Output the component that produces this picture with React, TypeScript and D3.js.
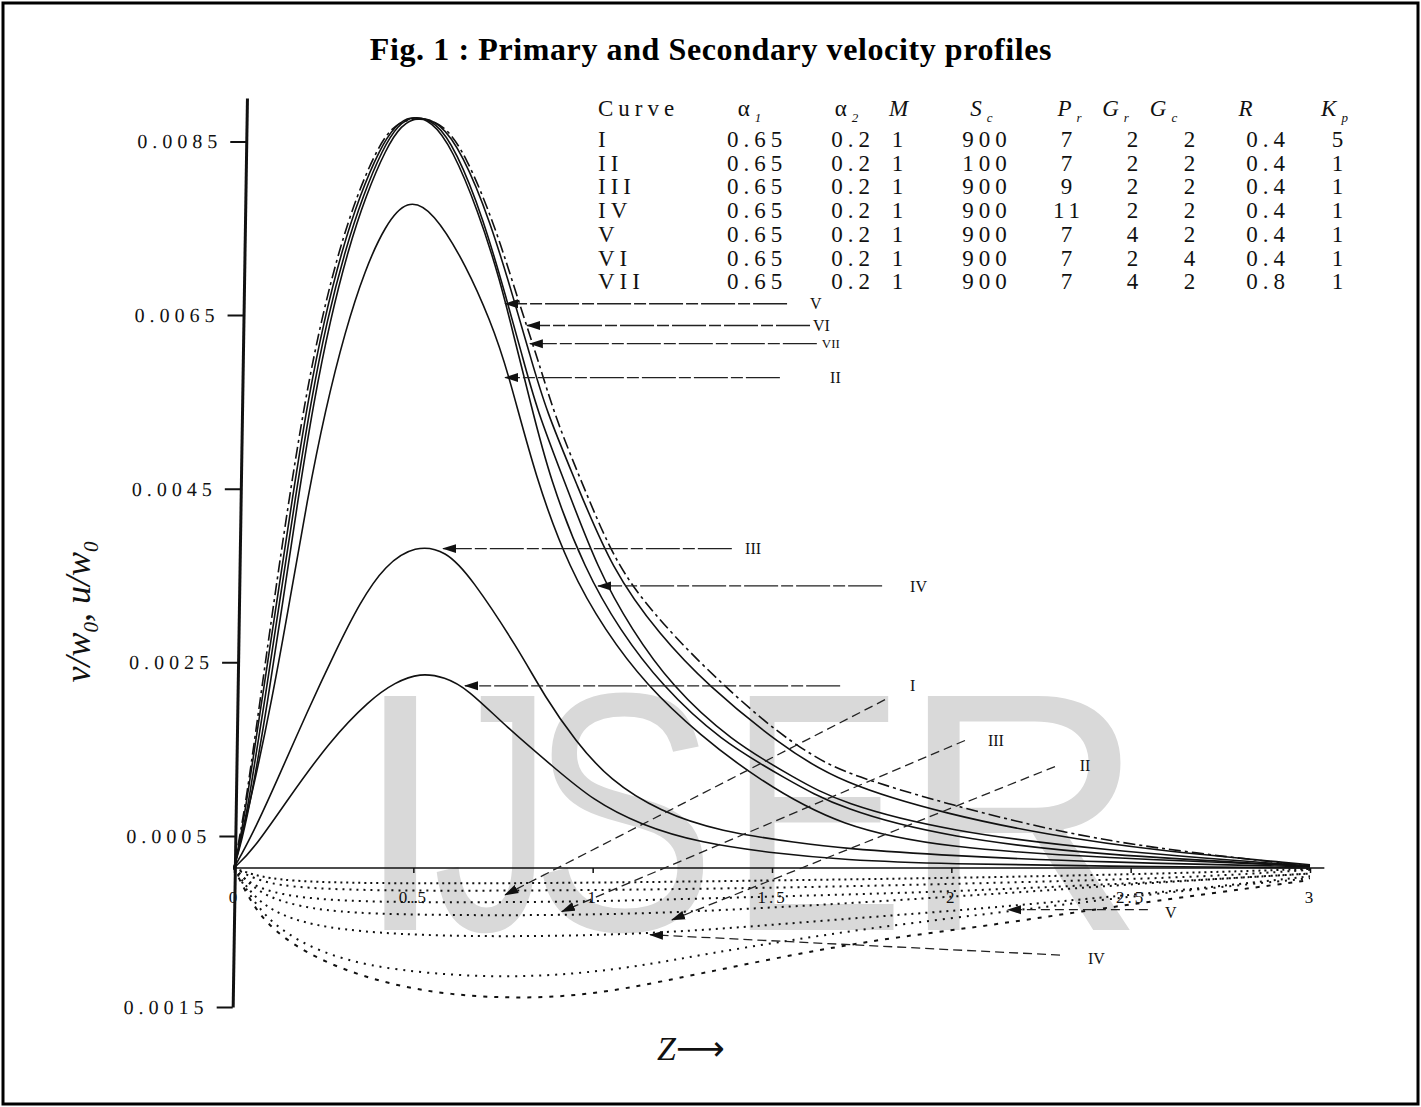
import React, { useRef, useEffect } from "react";
import * as d3 from "d3";

const width = 1421;
const height = 1107;

// axis ticks (the lowest tick sits below zero, printed without its sign)
const yTicks = [0.0085, 0.0065, 0.0045, 0.0025, 0.0005, -0.0015];
const xTicks = [0, 0.5, 1, 1.5, 2, 2.5, 3];

// primary velocity v/w0 (solid), [Z, value]
const primaryI = [
  [0, 0], [0.053, 0.00028], [0.148, 0.00091], [0.268, 0.0016], [0.379, 0.00207],
  [0.449, 0.00227], [0.519, 0.00238], [0.588, 0.00233], [0.65, 0.0022], [0.761, 0.00175],
  [0.892, 0.00129], [1.001, 0.00091], [1.132, 0.00063], [1.299, 0.00039], [1.522, 0.00022],
  [1.69, 0.00013], [1.996, 0.00006], [2.414, 0.00003], [3, 0],
];
const primaryII = [
  [0, 0], [0.025, 0.00057], [0.053, 0.00103], [0.106, 0.00207], [0.156, 0.00322],
  [0.204, 0.00437], [0.254, 0.0054], [0.31, 0.00632], [0.365, 0.00702], [0.421, 0.00753],
  [0.482, 0.00784], [0.555, 0.00771], [0.65, 0.00705], [0.714, 0.00644], [0.761, 0.0059],
  [0.842, 0.0046], [0.937, 0.00356], [1.034, 0.00287], [1.149, 0.00224], [1.299, 0.00166],
  [1.458, 0.00116], [1.69, 0.0006], [1.996, 0.00031], [2.414, 0.00016], [3, 0.00003],
];
const primaryIII = [
  [0, 0], [0.053, 0.00053], [0.12, 0.00114], [0.204, 0.00193], [0.282, 0.00262],
  [0.351, 0.00319], [0.421, 0.00362], [0.505, 0.00385], [0.591, 0.00379], [0.661, 0.00348],
  [0.792, 0.00266], [0.867, 0.0021], [0.951, 0.0016], [1.048, 0.00114], [1.188, 0.00078],
  [1.355, 0.00055], [1.578, 0.00039], [1.69, 0.00031], [1.996, 0.00019], [2.414, 0.00009],
  [3, 0.00002],
];
const primaryIV = [
  [0, 0], [0.02, 0.00044], [0.042, 0.00091], [0.086, 0.00207], [0.128, 0.00322],
  [0.17, 0.00437], [0.215, 0.00552], [0.259, 0.00644], [0.31, 0.00725], [0.36, 0.00788],
  [0.415, 0.00842], [0.457, 0.00869], [0.499, 0.0088], [0.563, 0.00873], [0.619, 0.0084],
  [0.694, 0.00763], [0.761, 0.00667], [0.803, 0.00604], [0.845, 0.0054], [0.92, 0.0046],
  [1.015, 0.00356], [1.11, 0.00287], [1.218, 0.00224], [1.383, 0.0016], [1.567, 0.00116],
  [1.69, 0.00088], [1.996, 0.00055], [2.414, 0.00028], [3, 0.00003],
];
const primaryV = [
  [0, 0], [0.017, 0.00044], [0.036, 0.00091], [0.078, 0.00207], [0.12, 0.00322],
  [0.162, 0.00437], [0.206, 0.00552], [0.251, 0.00644], [0.301, 0.00725], [0.351, 0.00788],
  [0.407, 0.00842], [0.449, 0.00868], [0.491, 0.0088], [0.552, 0.00874], [0.608, 0.00842],
  [0.68, 0.00771], [0.742, 0.0069], [0.783, 0.00621], [0.825, 0.00552], [0.881, 0.0046],
  [0.979, 0.00356], [1.076, 0.00287], [1.191, 0.00224], [1.355, 0.0016], [1.539, 0.00116],
  [1.69, 0.00081], [1.996, 0.00047], [2.414, 0.0002], [3, 0.00003],
];
const primaryVI = [
  [0, 0], [0.022, 0.00044], [0.047, 0.00091], [0.095, 0.00207], [0.137, 0.00322],
  [0.178, 0.00437], [0.223, 0.00552], [0.268, 0.00644], [0.318, 0.00725], [0.368, 0.00788],
  [0.424, 0.00842], [0.466, 0.00869], [0.513, 0.00879], [0.574, 0.00872], [0.636, 0.00837],
  [0.714, 0.00759], [0.781, 0.00667], [0.825, 0.00604], [0.87, 0.0054], [0.951, 0.0046],
  [1.054, 0.00356], [1.188, 0.00281], [1.319, 0.00224], [1.522, 0.00155], [1.69, 0.00111],
  [1.996, 0.00074], [2.275, 0.00051], [2.554, 0.00028], [3, 0.00005],
];
const primaryVII = [
  [0, 0], [0.014, 0.00044], [0.034, 0.00091], [0.073, 0.00207], [0.112, 0.00322],
  [0.153, 0.00437], [0.198, 0.00552], [0.243, 0.00644], [0.293, 0.00725], [0.343, 0.00788],
  [0.399, 0.00842], [0.449, 0.00872], [0.519, 0.00878], [0.586, 0.0087], [0.647, 0.00834],
  [0.728, 0.00753], [0.797, 0.00661], [0.848, 0.00598], [0.898, 0.00529], [0.979, 0.00448],
  [1.068, 0.0036], [1.179, 0.00302], [1.299, 0.00249], [1.486, 0.00178], [1.617, 0.00141],
  [1.718, 0.0012], [1.996, 0.00086], [2.275, 0.00057], [2.554, 0.00031], [3, 0.00003],
];

// secondary velocity u/w0 (dotted), [Z, value]
const secondaryVI = [
  [0, 0], [0.072, -0.0001], [0.184, -0.00015], [0.463, -0.00017], [1.02, -0.00016],
  [1.578, -0.00013], [2.136, -0.0001], [2.693, -0.00005], [3, -0.00001],
];
const secondaryVII = [
  [0, 0], [0.072, -0.00015], [0.184, -0.00022], [0.463, -0.00025], [1.02, -0.00024],
  [1.578, -0.00021], [2.136, -0.00016], [2.693, -0.0001], [3, -0.00002],
];
const secondaryI = [
  [0, 0], [0.045, -0.00018], [0.128, -0.00029], [0.268, -0.00035], [0.463, -0.00037],
  [0.742, -0.00037], [1.02, -0.00036], [1.299, -0.00033], [1.578, -0.0003], [1.857, -0.00027],
  [2.136, -0.00023], [2.414, -0.00018], [2.693, -0.00013], [3, -0.00006],
];
const secondaryIII = [
  [0, 0], [0.072, -0.00029], [0.184, -0.00042], [0.323, -0.00049], [0.602, -0.00051],
  [0.881, -0.00051], [1.16, -0.00049], [1.439, -0.00044], [1.717, -0.00038], [1.996, -0.00031],
  [2.275, -0.00024], [2.554, -0.00016], [3, -0.00006],
];
const secondaryIV = [
  [0, 0], [0.059, -0.00035], [0.156, -0.00056], [0.296, -0.00067], [0.519, -0.00073],
  [0.797, -0.00074], [1.076, -0.00072], [1.355, -0.00066], [1.634, -0.00057], [1.913, -0.00049],
  [2.164, -0.00041], [2.414, -0.00032], [2.693, -0.00022], [3, -0.00009],
];
const secondaryV = [
  [0, 0], [0.059, -0.0004], [0.128, -0.00067], [0.24, -0.00091], [0.379, -0.00106],
  [0.546, -0.00114], [0.742, -0.00118], [0.937, -0.00115], [1.132, -0.00106], [1.327, -0.00092],
  [1.55, -0.00078], [1.773, -0.00065], [2.024, -0.00053], [2.303, -0.0004], [2.582, -0.00027],
  [3, -0.00011],
];
const secondaryII = [
  [0, 0], [0.059, -0.00047], [0.142, -0.00078], [0.268, -0.00105], [0.435, -0.00126],
  [0.602, -0.00137], [0.797, -0.00141], [0.993, -0.00137], [1.188, -0.00123], [1.411, -0.00105],
  [1.634, -0.00088], [1.857, -0.00074], [2.108, -0.00062], [2.358, -0.00047], [2.637, -0.00032],
  [3, -0.00013],
];

// arrows to the primary curves: [label, tip Z, tail Z, label Z, value]
const primaryArrows = [
  ["V", 0.756, 1.542, 1.606, 0.00663],
  ["VI", 0.817, 1.606, 1.614, 0.00638],
  ["VII", 0.825, 1.625, 1.639, 0.00617],
  ["II", 0.756, 1.522, 1.662, 0.00578],
  ["III", 0.583, 1.388, 1.425, 0.00381],
  ["IV", 1.015, 1.807, 1.885, 0.00338],
  ["I", 0.644, 1.69, 1.885, 0.00223],
];
// arrows to the secondary curves: [label, tail Z, tail value, tip Z, tip value, label Z, label value]
const secondaryArrows = [
  ["", 1.815, 0.00207, 0.756, -0.00029, 0, 0],
  ["III", 2.038, 0.0016, 0.914, -0.00047, 2.102, 0.0016],
  ["II", 2.289, 0.0013, 1.221, -0.00056, 2.358, 0.00131],
  ["V", 2.548, -0.00045, 2.158, -0.00045, 2.596, -0.00048],
  ["IV", 2.303, -0.00094, 1.16, -0.00072, 2.381, -0.00098],
];

// parameter table
const tableCurves = ["I", "II", "III", "IV", "V", "VI", "VII"];
const alpha1 = ["0.65", "0.65", "0.65", "0.65", "0.65", "0.65", "0.65"];
const alpha2 = ["0.2", "0.2", "0.2", "0.2", "0.2", "0.2", "0.2"];
const mValues = ["1", "1", "1", "1", "1", "1", "1"];
const scValues = ["900", "100", "900", "900", "900", "900", "900"];
const prValues = ["7", "7", "9", "11", "7", "7", "7"];
const grValues = ["2", "2", "2", "2", "4", "2", "4"];
const gcValues = ["2", "2", "2", "2", "2", "4", "2"];
const rValues = ["0.4", "0.4", "0.4", "0.4", "0.4", "0.4", "0.8"];
const kpValues = ["5", "1", "1", "1", "1", "1", "1"];
const headMain = ["α", "α", "M", "S", "P", "G", "G", "R", "K"];
const headSub = ["1", "2", "", "c", "r", "r", "c", "", "p"];

const watermark = ["I", "J", "S", "E", "R"];

const App = () => {
  const ref = useRef<SVGSVGElement>(null);

  useEffect(() => {
    const svg = d3.select(ref.current);
    svg.selectAll("*").remove();

    const x = d3.scaleLinear().domain([0, 3]).range([234, 1310]);
    // the scanned axis is not evenly spaced around zero
    const y = d3
      .scaleLinear()
      .domain([0.009, 0.0005, 0, -0.0015])
      .range([98, 836, 868, 1007]);

    const serif = "'Liberation Serif', 'Times New Roman', serif";
    const ink = "#111";

    svg.append("rect").attr("width", width).attr("height", height).attr("fill", "#fff");

    // watermark, letters placed one by one
    const wmX = [353, 433, 530, 728, 900];
    const wmScale = [1, 0.7, 0.82, 0.78, 1];
    svg
      .append("g")
      .selectAll("text")
      .data(watermark)
      .join("text")
      .attr("transform", (d, i) => `translate(${wmX[i]},930) scale(${wmScale[i]},1)`)
      .attr("font-family", "'Liberation Sans', Arial, sans-serif")
      .attr("font-size", 340)
      .attr("fill", "#d9d9d9")
      .text((d) => d);

    svg
      .append("rect")
      .attr("x", 3)
      .attr("y", 3)
      .attr("width", width - 6)
      .attr("height", height - 6)
      .attr("fill", "none")
      .attr("stroke", "#000")
      .attr("stroke-width", 3);

    svg
      .append("text")
      .attr("x", 711)
      .attr("y", 60)
      .attr("text-anchor", "middle")
      .attr("font-family", serif)
      .attr("font-weight", "bold")
      .attr("font-size", 32)
      .style("letter-spacing", "0.6px")
      .text("Fig. 1 : Primary and Secondary velocity profiles");

    const defs = svg.append("defs");
    defs
      .append("marker")
      .attr("id", "ah")
      .attr("viewBox", "0 -5 14 10")
      .attr("refX", 13)
      .attr("refY", 0)
      .attr("markerWidth", 14)
      .attr("markerHeight", 10)
      .attr("markerUnits", "userSpaceOnUse")
      .attr("orient", "auto")
      .append("path")
      .attr("d", "M0,-4.5L14,0L0,4.5Z")
      .attr("fill", ink);

    // y axis (the scan is slightly skewed)
    const yAxis = svg
      .append("g")
      .attr("transform", "translate(248.5,0) skewX(-0.9)")
      .call(
        d3
          .axisLeft(y)
          .tickValues(yTicks)
          .tickSize(16)
          .tickSizeOuter(0)
          .tickPadding(8)
          .tickFormat((d) => Math.abs(+d).toFixed(4))
      );
    yAxis.select(".domain").attr("stroke", ink).attr("stroke-width", 3);
    yAxis.selectAll(".tick line").attr("stroke", ink).attr("stroke-width", 2);
    yAxis
      .selectAll(".tick text")
      .attr("font-family", serif)
      .attr("font-size", 20)
      .attr("fill", ink)
      .style("letter-spacing", "5px");

    // x axis along zero
    svg
      .append("line")
      .attr("x1", x(0))
      .attr("x2", x(3.04))
      .attr("y1", y(0))
      .attr("y2", y(0))
      .attr("stroke", ink)
      .attr("stroke-width", 1.6);
    const xAxis = svg
      .append("g")
      .attr("transform", `translate(0,${y(0)})`)
      .call(
        d3
          .axisBottom(x)
          .tickValues(xTicks)
          .tickSize(5)
          .tickSizeOuter(0)
          .tickPadding(18)
          .tickFormat((d) => String(d))
      );
    xAxis.select(".domain").remove();
    xAxis.selectAll(".tick line").attr("stroke", ink).attr("stroke-width", 1.5);
    xAxis
      .selectAll(".tick text")
      .attr("font-family", serif)
      .attr("font-size", 17)
      .attr("fill", ink)
      .style("letter-spacing", "3px");

    const line = d3
      .line<number[]>()
      .x((d) => x(d[0]))
      .y((d) => y(d[1]))
      .curve(d3.curveBasis);

    const primary = [
      { data: primaryI, dash: null },
      { data: primaryII, dash: null },
      { data: primaryIII, dash: null },
      { data: primaryIV, dash: null },
      { data: primaryV, dash: null },
      { data: primaryVI, dash: null },
      { data: primaryVII, dash: "12,4,3,4" },
    ];
    svg
      .append("g")
      .selectAll("path")
      .data(primary)
      .join("path")
      .attr("d", (d) => line(d.data))
      .attr("fill", "none")
      .attr("stroke", ink)
      .attr("stroke-width", 1.6)
      .attr("stroke-dasharray", (d) => d.dash);

    const secondary = [
      { data: secondaryVI, dash: "2,4" },
      { data: secondaryVII, dash: "2,5" },
      { data: secondaryI, dash: "2,5" },
      { data: secondaryIII, dash: "2,5" },
      { data: secondaryIV, dash: "2,5" },
      { data: secondaryV, dash: "2,6" },
      { data: secondaryII, dash: "4,7" },
    ];
    svg
      .append("g")
      .selectAll("path")
      .data(secondary)
      .join("path")
      .attr("d", (d) => line(d.data))
      .attr("fill", "none")
      .attr("stroke", ink)
      .attr("stroke-width", 2)
      .attr("stroke-dasharray", (d) => d.dash);

    // labelled arrows
    const arrows = svg.append("g");
    primaryArrows.forEach(([name, tip, tail, lab, v]) => {
      arrows
        .append("line")
        .attr("x1", x(tail as number))
        .attr("x2", x(tip as number))
        .attr("y1", y(v as number))
        .attr("y2", y(v as number))
        .attr("stroke", "#222")
        .attr("stroke-width", 1.3)
        .attr("stroke-dasharray", "34,3,12,3")
        .attr("marker-end", "url(#ah)");
      arrows
        .append("text")
        .attr("x", x(lab as number))
        .attr("y", y(v as number))
        .attr("dy", "0.35em")
        .attr("font-family", serif)
        .attr("font-size", name === "VII" ? 13 : 16)
        .attr("fill", ink)
        .text(name as string);
    });
    secondaryArrows.forEach(([name, tz, tv, pz, pv, lz, lv]) => {
      arrows
        .append("line")
        .attr("x1", x(tz as number))
        .attr("x2", x(pz as number))
        .attr("y1", y(tv as number))
        .attr("y2", y(pv as number))
        .attr("stroke", "#222")
        .attr("stroke-width", 1.3)
        .attr("stroke-dasharray", "9,5")
        .attr("marker-end", "url(#ah)");
      if (name) {
        arrows
          .append("text")
          .attr("x", x(lz as number))
          .attr("y", y(lv as number))
          .attr("dy", "0.35em")
          .attr("font-family", serif)
          .attr("font-size", 16)
          .attr("fill", ink)
          .text(name as string);
      }
    });

    // parameter table
    const table = svg
      .append("g")
      .attr("font-family", serif)
      .attr("font-size", 23)
      .attr("fill", ink)
      .style("letter-spacing", "5px");
    const headX = [752, 849, 901, 984, 1072, 1118, 1166, 1248, 1337];
    const colX = [757, 853, 900, 987, 1069, 1135, 1192, 1268, 1340];
    table.append("text").attr("x", 598).attr("y", 116).text("Curve");
    headMain.forEach((m, i) => {
      const t = table
        .append("text")
        .attr("x", headX[i])
        .attr("y", 116)
        .attr("text-anchor", "middle");
      t.append("tspan")
        .attr("font-style", m === "α" ? "normal" : "italic")
        .text(m);
      if (headSub[i]) {
        t.append("tspan")
          .attr("dy", 6)
          .attr("font-size", 13)
          .attr("font-style", "italic")
          .text(headSub[i]);
      }
    });
    const columns = [alpha1, alpha2, mValues, scValues, prValues, grValues, gcValues, rValues, kpValues];
    tableCurves.forEach((c, r) => {
      const yy = 147 + r * 23.7;
      table.append("text").attr("x", 598).attr("y", yy).text(c);
      columns.forEach((col, i) => {
        table
          .append("text")
          .attr("x", colX[i])
          .attr("y", yy)
          .attr("text-anchor", "middle")
          .text(col[r]);
      });
    });

    // axis titles
    const yl = svg
      .append("text")
      .attr("transform", "translate(90,612) rotate(-90)")
      .attr("text-anchor", "middle")
      .attr("font-family", serif)
      .attr("font-style", "italic")
      .attr("font-size", 36)
      .attr("fill", ink);
    yl.append("tspan").text("v/w");
    yl.append("tspan").attr("dy", 8).attr("font-size", 21).text("0");
    yl.append("tspan").attr("dy", -8).text(", u/w");
    yl.append("tspan").attr("dy", 8).attr("font-size", 21).text("0");

    const xl = svg
      .append("text")
      .attr("x", 657)
      .attr("y", 1060)
      .attr("font-family", serif)
      .attr("font-size", 34)
      .attr("fill", ink);
    xl.append("tspan").attr("font-style", "italic").text("Z");
    xl.append("tspan").attr("font-family", "'DejaVu Sans', sans-serif").attr("font-size", 34).text("⟶");
  }, []);

  return (
    <svg
      ref={ref}
      width={width}
      height={height}
      style={{ position: "absolute", left: 0, top: 0 }}
    ></svg>
  );
};

export default App;
